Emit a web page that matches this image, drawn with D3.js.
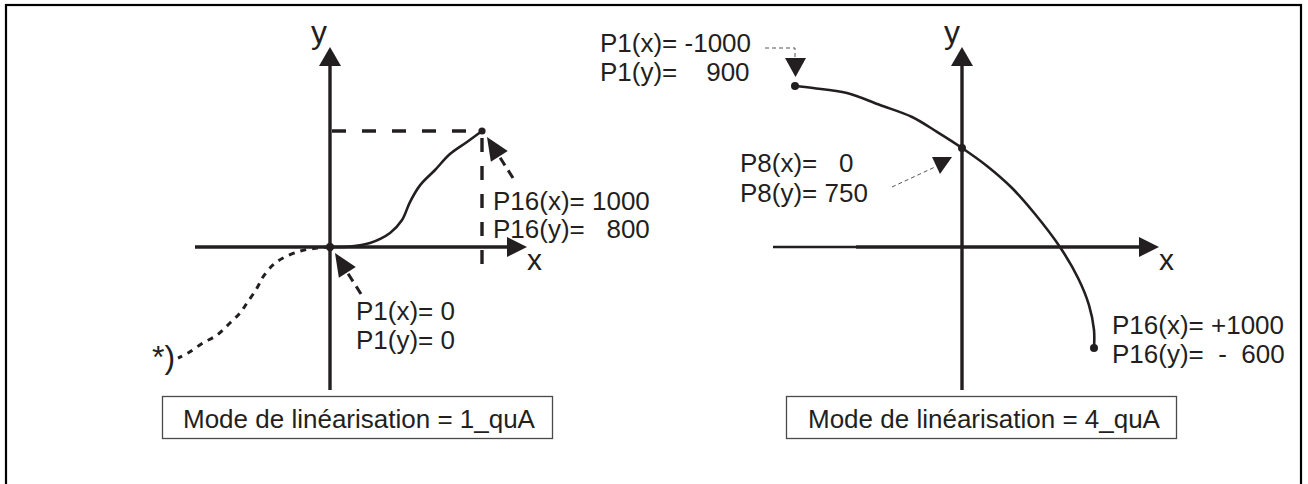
<!DOCTYPE html>
<html>
<head>
<meta charset="utf-8">
<script src="https://cdn.jsdelivr.net/npm/d3@7"></script>
<style>
  body { margin: 0; background: #fff; }
  svg text { font-family: "Liberation Sans", Arial, sans-serif; fill: #231f20; white-space: pre; }
</style>
</head>
<body>
<svg id="chart" width="1308" height="484"></svg>
<script>
/* global d3 */
"use strict";

// values (device units of the linearisation)
var leftCurve = [[0, 0], [132, 3], [263, 28], [395, 97], [474, 186], [526, 310],
  [592, 425], [691, 531], [789, 641], [901, 724], [1000, 800]];
var leftDotted = [[0, 0], [-86, -7], [-197, -28], [-309, -76], [-375, -124], [-441, -207],
  [-480, -283], [-546, -386], [-592, -455], [-658, -524], [-743, -607], [-836, -662],
  [-934, -731], [-1000, -766]];
var leftP1 = [0, 0];
var leftP16 = [1000, 800];

var rightCurve = [[-1000, 900], [-892, 895], [-689, 883], [-491, 854], [-299, 825],
  [-150, 789], [0, 750], [189, 614], [379, 447], [553, 250], [742, 0], [879, -184],
  [962, -345], [1000, -493], [1000, -600]];
var rightP1 = [-1000, 900];
var rightP8 = [0, 750];
var rightP16 = [1000, -600];

var leftLabelP16 = ["P16(x)= 1000", "P16(y)=   800"];
var leftLabelP1 = ["P1(x)= 0", "P1(y)= 0"];
var rightLabelP1 = ["P1(x)= -1000", "P1(y)=    900"];
var rightLabelP8 = ["P8(x)=   0", "P8(y)= 750"];
var rightLabelP16 = ["P16(x)= +1000", "P16(y)=  -  600"];
var modeLabels = ["Mode de linéarisation = 1_quA", "Mode de linéarisation = 4_quA"];

var ink = "#231f20";
var svg = d3.select("#chart");

// outer frame (runs off the bottom of the picture)
svg.append("rect")
  .attr("x", 6).attr("y", 5)
  .attr("width", 1295).attr("height", 600)
  .attr("fill", "none").attr("stroke", "#000").attr("stroke-width", 2.2);

function tri(g, pts) {
  g.append("path")
    .attr("d", "M" + pts.join("L") + "Z")
    .attr("fill", ink);
}

function drawAxes(g, ox, oy, xFrom, xTo, yFrom, yTo, thinTo) {
  g.append("line")
    .attr("x1", ox).attr("x2", ox)
    .attr("y1", yFrom).attr("y2", yTo + 18)
    .attr("stroke", ink).attr("stroke-width", 3.4);
  tri(g, [[ox - 11, yTo + 19], [ox + 11, yTo + 19], [ox, yTo]]);

  if (thinTo) {
    g.append("line")
      .attr("x1", xFrom).attr("x2", thinTo)
      .attr("y1", oy).attr("y2", oy)
      .attr("stroke", ink).attr("stroke-width", 2.4);
    xFrom = thinTo;
  }
  g.append("line")
    .attr("x1", xFrom).attr("x2", xTo - 18)
    .attr("y1", oy).attr("y2", oy)
    .attr("stroke", ink).attr("stroke-width", 3.4);
  tri(g, [[xTo - 20, oy - 10], [xTo - 20, oy + 10], [xTo, oy]]);
}

function label(g, lines, x, y, size, step) {
  var t = g.append("text")
    .attr("x", x).attr("y", y)
    .attr("font-size", size);
  lines.forEach(function (s, i) {
    t.append("tspan")
      .attr("x", x)
      .attr("dy", i ? step : 0)
      .text(s);
  });
}

// thick dashed arrow pointing at a point (offsets in px)
function bigArrow(g, p) {
  var tip = [p[0] + 5, p[1] + 6], tail = [p[0] + 31, p[1] + 47];
  var dx = tip[0] - tail[0], dy = tip[1] - tail[1];
  var len = Math.sqrt(dx * dx + dy * dy), ux = dx / len, uy = dy / len;
  var hl = 23, hw = 10;
  var base = [tip[0] - ux * hl, tip[1] - uy * hl];
  g.append("line")
    .attr("x1", tail[0]).attr("y1", tail[1])
    .attr("x2", base[0]).attr("y2", base[1])
    .attr("stroke", ink).attr("stroke-width", 3)
    .attr("stroke-dasharray", "9,6");
  tri(g, [tip, [base[0] - uy * hw, base[1] + ux * hw], [base[0] + uy * hw, base[1] - ux * hw]]);
}

function modeBox(g, x, textX, s) {
  g.append("rect")
    .attr("x", x).attr("y", 396.5)
    .attr("width", 390).attr("height", 42)
    .attr("fill", "#fff").attr("stroke", "#4a4a4a").attr("stroke-width", 1.3);
  g.append("text")
    .attr("x", textX).attr("y", 428)
    .attr("font-size", 26)
    .text(s);
}

// ---------- left panel : 1_quA ----------
var xL = d3.scaleLinear().domain([0, 1000]).range([330, 482]);
var yL = d3.scaleLinear().domain([0, 800]).range([247, 131]);
var gL = svg.append("g").attr("class", "left");

var lineL = d3.line()
  .x(function (d) { return xL(d[0]); })
  .y(function (d) { return yL(d[1]); })
  .curve(d3.curveCatmullRom.alpha(0.5));

drawAxes(gL, xL(0), yL(0), 195, 527, 390, 47);

// projection guides of P16
gL.append("line")
  .attr("x1", xL(0) + 2).attr("x2", xL(leftP16[0]))
  .attr("y1", yL(leftP16[1])).attr("y2", yL(leftP16[1]))
  .attr("stroke", ink).attr("stroke-width", 3.4)
  .attr("stroke-dasharray", "14,16");
gL.append("line")
  .attr("x1", xL(leftP16[0])).attr("x2", xL(leftP16[0]))
  .attr("y1", yL(leftP16[1])).attr("y2", yL(0) + 17)
  .attr("stroke", ink).attr("stroke-width", 3.4)
  .attr("stroke-dasharray", "14,14").attr("stroke-dashoffset", 21);

gL.append("path")
  .datum(leftDotted)
  .attr("d", lineL)
  .attr("fill", "none").attr("stroke", ink)
  .attr("stroke-width", 3).attr("stroke-dasharray", "6,6");

gL.append("path")
  .datum(leftCurve)
  .attr("d", lineL)
  .attr("fill", "none").attr("stroke", ink).attr("stroke-width", 2.6);

gL.selectAll("circle")
  .data([leftP1, leftP16])
  .enter().append("circle")
  .attr("cx", function (d) { return xL(d[0]); })
  .attr("cy", function (d) { return yL(d[1]); })
  .attr("r", function (d, i) { return i ? 3.6 : 4.2; })
  .attr("fill", ink);

bigArrow(gL, [xL(leftP16[0]), yL(leftP16[1])]);
bigArrow(gL, [xL(leftP1[0]), yL(leftP1[1])]);

label(gL, ["y"], 311, 43, 32, 0);
label(gL, ["x"], 527, 270, 30, 0);
label(gL, leftLabelP16, 493, 210, 26, 28);
label(gL, leftLabelP1, 356, 320, 26, 29);
label(gL, ["*)"], 152, 368, 32, 0);
modeBox(gL, 162.5, 183, modeLabels[0]);

// ---------- right panel : 4_quA ----------
var xR = d3.scaleLinear().domain([-1000, 0, 1000]).range([795, 962, 1094]);
var yR = d3.scaleLinear().domain([-600, 0, 750, 900]).range([348, 247, 148, 86]);
var gR = svg.append("g").attr("class", "right");

var lineR = d3.line()
  .x(function (d) { return xR(d[0]); })
  .y(function (d) { return yR(d[1]); })
  .curve(d3.curveCatmullRom.alpha(0.5));

drawAxes(gR, xR(0), yR(0), 773, 1159, 390, 47, 856);

gR.append("path")
  .datum(rightCurve)
  .attr("d", lineR)
  .attr("fill", "none").attr("stroke", ink).attr("stroke-width", 2.6);

gR.selectAll("circle")
  .data([rightP1, rightP8, rightP16])
  .enter().append("circle")
  .attr("cx", function (d) { return xR(d[0]); })
  .attr("cy", function (d) { return yR(d[1]); })
  .attr("r", 4)
  .attr("fill", ink);

// thin dashed pointers
var p1 = [xR(rightP1[0]), yR(rightP1[1])];
gR.append("path")
  .attr("d", "M" + (p1[0] - 30) + "," + (p1[1] - 38) + "H" + p1[0] + "V" + (p1[1] - 28))
  .attr("fill", "none").attr("stroke", "#555").attr("stroke-width", 1)
  .attr("stroke-dasharray", "4,3");
tri(gR, [[p1[0] - 10, p1[1] - 28], [p1[0] + 11, p1[1] - 28], [p1[0] + 0.5, p1[1] - 9]]);

var p8 = [xR(rightP8[0]), yR(rightP8[1])];
gR.append("line")
  .attr("x1", p8[0] - 70).attr("y1", p8[1] + 39)
  .attr("x2", p8[0] - 27).attr("y2", p8[1] + 19)
  .attr("stroke", "#555").attr("stroke-width", 1)
  .attr("stroke-dasharray", "4,3");
tri(gR, [[p8[0] - 30, p8[1] + 9], [p8[0] - 10, p8[1] + 9], [p8[0] - 22, p8[1] + 26]]);

label(gR, ["y"], 944, 43, 32, 0);
label(gR, ["x"], 1159, 270, 30, 0);
label(gR, rightLabelP1, 600, 52, 26, 29);
label(gR, rightLabelP8, 740, 172, 26, 30);
label(gR, rightLabelP16, 1112, 334, 26, 29);
modeBox(gR, 786.5, 808, modeLabels[1]);
</script>
</body>
</html>
